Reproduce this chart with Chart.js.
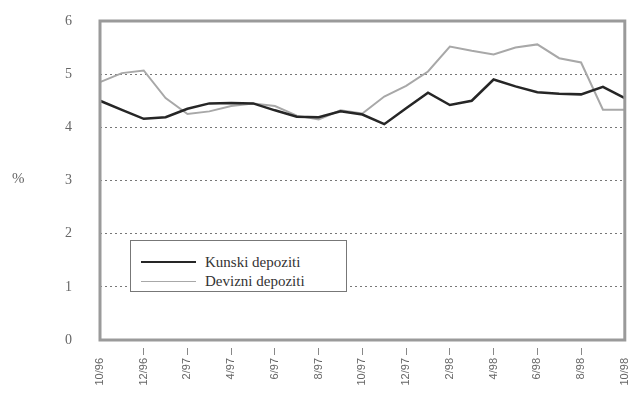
<!DOCTYPE html>
<html>
<head>
<meta charset="utf-8">
<script src="https://cdn.jsdelivr.net/npm/chart.js@4"></script>
<style>
  body { margin: 0; background: #fff; }
  #wrap { position: relative; width: 640px; height: 409px; }
  #pct { position: absolute; left: 12px; top: 170px; font: 15px "Liberation Serif", serif; color: #666; }
  #legend { position: absolute; left: 130px; top: 240px; width: 215px; height: 50px;
            border: 1.5px solid #777; background: #fff; font: 15px "Liberation Serif", serif; color: #333; }
  .row { position: absolute; left: 10px; height: 18px; display: flex; align-items: center; }
  .row span.ln { display: inline-block; width: 55px; margin-right: 9px; }
</style>
</head>
<body>
<div id="wrap">
  <canvas id="myChart" width="640" height="409"></canvas>
  <div id="pct">%</div>
  <div id="legend"></div>
</div>
<script>
var months = ["10/96","11/96","12/96","1/97","2/97","3/97","4/97","5/97","6/97","7/97","8/97","9/97",
              "10/97","11/97","12/97","1/98","2/98","3/98","4/98","5/98","6/98","7/98","8/98","9/98","10/98"]

var kunski = [4.50, 4.33, 4.16, 4.19, 4.35, 4.45, 4.46, 4.45, 4.32, 4.20, 4.19, 4.30,
              4.24, 4.06, 4.36, 4.65, 4.42, 4.50, 4.90, 4.77, 4.66, 4.63, 4.62, 4.76, 4.55]

var devizni = [4.85, 5.02, 5.07, 4.55, 4.25, 4.30, 4.40, 4.45, 4.40, 4.22, 4.15, 4.32,
               4.26, 4.58, 4.78, 5.05, 5.52, 5.44, 5.37, 5.50, 5.56, 5.30, 5.22, 4.33, 4.33]

var seriesNames = ["Kunski depoziti", "Devizni depoziti"]
var seriesColors = ["#262626", "#a8a8a8"]

// frame round the plot area
var frame = {
    id: "frame",
    afterDraw(chart) {
        var a = chart.chartArea, c = chart.ctx
        c.save()
        c.strokeStyle = "#9a9a9a"
        c.lineWidth = 3
        c.strokeRect(a.left, a.top, a.right - a.left, a.bottom - a.top)
        c.restore()
    }
}

new Chart("myChart", {
    type: "line",
    data: {
        labels: months,
        datasets: [{
            label: seriesNames[0],
            data: kunski,
            borderColor: seriesColors[0],
            borderWidth: 2.5
        }, {
            label: seriesNames[1],
            data: devizni,
            borderColor: seriesColors[1],
            borderWidth: 2
        }]
    },
    options: {
        responsive: false,
        animation: false,
        layout: { padding: { top: 21, right: 0, left: 0, bottom: 0 } },
        elements: { point: { radius: 0 }, line: { tension: 0 } },
        plugins: { legend: { display: false }, tooltip: { enabled: false } },
        scales: {
            x: {
                offset: false,
                border: { display: false },
                grid: {
                    drawOnChartArea: false,
                    tickLength: 16,
                    tickBorderDash: [0, 8, 7, 100],
                    tickColor: function (ctx) {
                        var i = ctx.index
                        return (i % 2 || i === 0 || i === months.length - 1) ? "transparent" : "#888"
                    }
                },
                ticks: {
                    autoSkip: false,
                    maxRotation: 90,
                    minRotation: 90,
                    padding: 2,
                    color: "#666",
                    font: { family: "Liberation Sans", size: 11 },
                    callback: function (v, i) { return i % 2 ? "" : months[i] }
                },
                afterFit: function (s) { s.height = 69 }
            },
            y: {
                min: 0,
                max: 6,
                border: { display: false, dash: [2, 3] },
                grid: {
                    drawTicks: true,
                    tickLength: 26,
                    tickColor: "transparent",
                    color: function (ctx) {
                        var v = ctx.tick.value
                        return (v === 0 || v === 6) ? "transparent" : "#777"
                    },
                    lineWidth: 1
                },
                ticks: {
                    stepSize: 1,
                    padding: 2,
                    color: "#666",
                    font: { family: "Liberation Serif", size: 14 }
                },
                afterFit: function (s) { s.width = 100 }
            }
        }
    },
    plugins: [frame]
});

// legend box inside the plot
var legend = document.getElementById("legend")
for (var i = 0; i < seriesNames.length; i++) {
    var row = document.createElement("div")
    row.className = "row"
    row.style.top = (12 + i * 19) + "px"
    row.innerHTML = '<span class="ln" style="border-top:' + (i === 0 ? 2 : 1.5) + 'px solid ' +
        seriesColors[i] + '"></span>' + seriesNames[i]
    legend.appendChild(row)
}
</script>
</body>
</html>
